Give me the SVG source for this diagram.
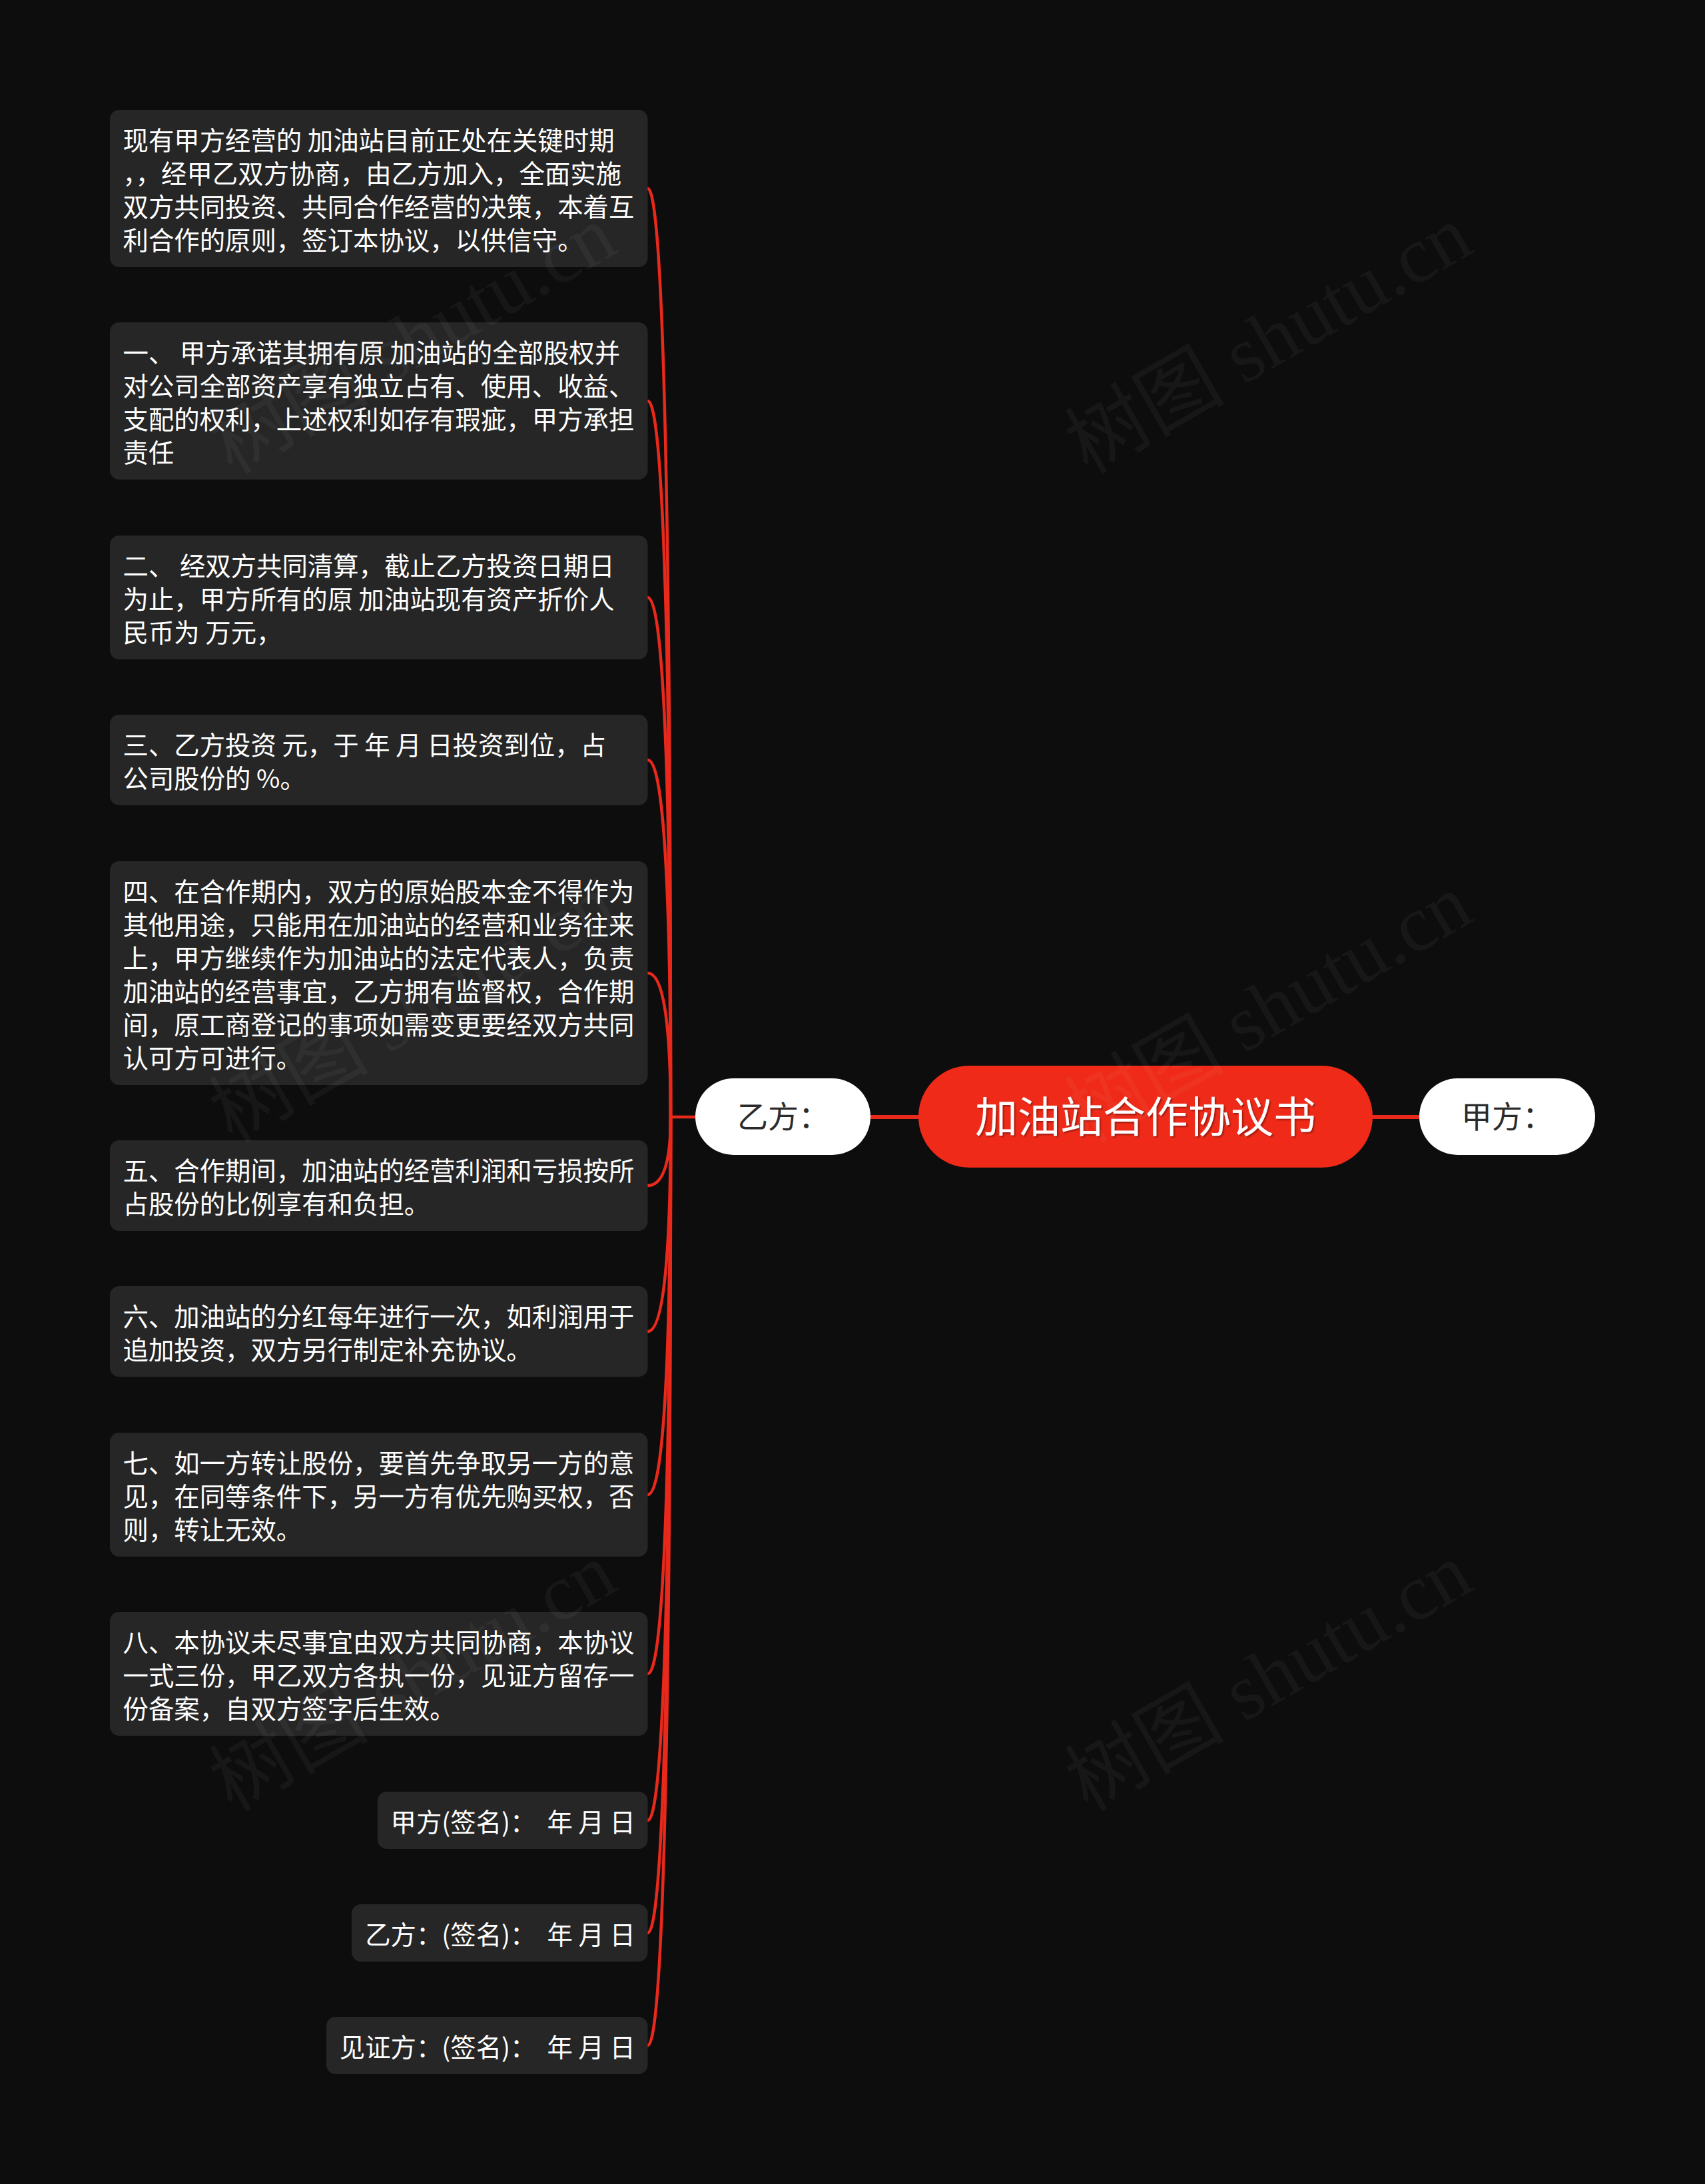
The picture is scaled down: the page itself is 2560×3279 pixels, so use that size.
<svg xmlns="http://www.w3.org/2000/svg" width="2560" height="3279" viewBox="0 0 2560 3279">
<style>
.bg{fill:#0d0d0d}
.box{fill:#262626}
.t{font-family:"Noto Sans CJK SC","Noto Sans",sans-serif;font-size:38.4px;fill:#ffffff}
.link{fill:none;stroke:#e8291b;stroke-width:4.5;stroke-linecap:round}
.main{fill:none;stroke:#e8291b;stroke-width:6}
.root{fill:#ef2a18}
.side{fill:#ffffff}
.rt{font-family:"Noto Sans CJK SC","Noto Sans",sans-serif;font-size:64px;fill:#ffffff;text-anchor:middle}
.st{font-family:"Noto Sans CJK SC","Noto Sans",sans-serif;font-size:46px;fill:#2b2b2b;text-anchor:middle}
.wm{font-family:"Liberation Serif","Noto Sans CJK SC",serif;font-size:120px;fill:#ffffff;fill-opacity:0.045;text-anchor:middle}
</style>
<defs>
<filter id="sh" x="-10%" y="-20%" width="120%" height="140%">
<feDropShadow dx="2" dy="2" stdDeviation="1" flood-color="#000000" flood-opacity="0.35"/>
</filter>
</defs>
<rect class="bg" x="0" y="0" width="2560" height="3279"/>

<g id="connectors">
<line class="main" x1="1307" y1="1677" x2="1380" y2="1677"/>
<line class="main" x1="2060" y1="1677" x2="2132" y2="1677"/>
<line class="link" x1="1044" y1="1677" x2="1007" y2="1677"/>
<path class="link" d="M1007 1677 Q1007 283 972.5 283"/>
<path class="link" d="M1007 1677 Q1007 602 972.5 602"/>
<path class="link" d="M1007 1677 Q1007 897 972.5 897"/>
<path class="link" d="M1007 1677 Q1007 1141 972.5 1141"/>
<path class="link" d="M1007 1677 Q1007 1461 972.5 1461"/>
<path class="link" d="M1007 1677 Q1007 1780 972.5 1780"/>
<path class="link" d="M1007 1677 Q1007 1999 972.5 1999"/>
<path class="link" d="M1007 1677 Q1007 2244 972.5 2244"/>
<path class="link" d="M1007 1677 Q1007 2513 972.5 2513"/>
<path class="link" d="M1007 1677 Q1007 2733 972.5 2733"/>
<path class="link" d="M1007 1677 Q1007 2902 972.5 2902"/>
<path class="link" d="M1007 1677 Q1007 3071 972.5 3071"/>
</g>

<g id="root">
<rect class="root" x="1379" y="1600" width="682" height="153" rx="76.5"/>
<text class="rt" x="1720" y="1700" filter="url(#sh)">加油站合作协议书</text>
</g>

<g id="yifang">
<rect class="side" x="1044" y="1619" width="263" height="115" rx="57.5"/>
<text class="st" x="1176" y="1693">乙方：</text>
</g>

<g id="jiafang">
<rect class="side" x="2131" y="1619" width="264" height="115" rx="57.5"/>
<text class="st" x="2263" y="1693">甲方：</text>
</g>

<g id="n1">
<rect class="box" x="165" y="165" width="807.5" height="236" rx="14"/>
<text class="t" xml:space="preserve"><tspan x="184.5" y="225">现有甲方经营的 加油站目前正处在关键时期</tspan><tspan x="184.5" y="275">，，经甲乙双方协商，由乙方加入，全面实施</tspan><tspan x="184.5" y="325">双方共同投资、共同合作经营的决策，本着互</tspan><tspan x="184.5" y="375">利合作的原则，签订本协议，以供信守。</tspan></text>
</g>

<g id="n2">
<rect class="box" x="165" y="484" width="807.5" height="236" rx="14"/>
<text class="t" xml:space="preserve"><tspan x="184.5" y="544">一、 甲方承诺其拥有原 加油站的全部股权并</tspan><tspan x="184.5" y="594">对公司全部资产享有独立占有、使用、收益、</tspan><tspan x="184.5" y="644">支配的权利，上述权利如存有瑕疵，甲方承担</tspan><tspan x="184.5" y="694">责任</tspan></text>
</g>

<g id="n3">
<rect class="box" x="165" y="804" width="807.5" height="186" rx="14"/>
<text class="t" xml:space="preserve"><tspan x="184.5" y="864">二、 经双方共同清算，截止乙方投资日期日</tspan><tspan x="184.5" y="914">为止，甲方所有的原 加油站现有资产折价人</tspan><tspan x="184.5" y="964">民币为 万元，</tspan></text>
</g>

<g id="n4">
<rect class="box" x="165" y="1073" width="807.5" height="136" rx="14"/>
<text class="t" xml:space="preserve"><tspan x="184.5" y="1133">三、乙方投资 元，于 年 月 日投资到位，占</tspan><tspan x="184.5" y="1183">公司股份的 %。</tspan></text>
</g>

<g id="n5">
<rect class="box" x="165" y="1293" width="807.5" height="336" rx="14"/>
<text class="t" xml:space="preserve"><tspan x="184.5" y="1353">四、在合作期内，双方的原始股本金不得作为</tspan><tspan x="184.5" y="1403">其他用途，只能用在加油站的经营和业务往来</tspan><tspan x="184.5" y="1453">上，甲方继续作为加油站的法定代表人，负责</tspan><tspan x="184.5" y="1503">加油站的经营事宜，乙方拥有监督权，合作期</tspan><tspan x="184.5" y="1553">间，原工商登记的事项如需变更要经双方共同</tspan><tspan x="184.5" y="1603">认可方可进行。</tspan></text>
</g>

<g id="n6">
<rect class="box" x="165" y="1712" width="807.5" height="136" rx="14"/>
<text class="t" xml:space="preserve"><tspan x="184.5" y="1772">五、合作期间，加油站的经营利润和亏损按所</tspan><tspan x="184.5" y="1822">占股份的比例享有和负担。</tspan></text>
</g>

<g id="n7">
<rect class="box" x="165" y="1931" width="807.5" height="136" rx="14"/>
<text class="t" xml:space="preserve"><tspan x="184.5" y="1991">六、加油站的分红每年进行一次，如利润用于</tspan><tspan x="184.5" y="2041">追加投资，双方另行制定补充协议。</tspan></text>
</g>

<g id="n8">
<rect class="box" x="165" y="2151" width="807.5" height="186" rx="14"/>
<text class="t" xml:space="preserve"><tspan x="184.5" y="2211">七、如一方转让股份，要首先争取另一方的意</tspan><tspan x="184.5" y="2261">见，在同等条件下，另一方有优先购买权，否</tspan><tspan x="184.5" y="2311">则，转让无效。</tspan></text>
</g>

<g id="n9">
<rect class="box" x="165" y="2420" width="807.5" height="186" rx="14"/>
<text class="t" xml:space="preserve"><tspan x="184.5" y="2480">八、本协议未尽事宜由双方共同协商，本协议</tspan><tspan x="184.5" y="2530">一式三份，甲乙双方各执一份，见证方留存一</tspan><tspan x="184.5" y="2580">份备案，自双方签字后生效。</tspan></text>
</g>

<g id="n10">
<rect class="box" x="567" y="2690" width="405.5" height="86" rx="14"/>
<text class="t" xml:space="preserve" x="954" y="2750" text-anchor="end">甲方(签名)：  年 月 日</text>
</g>

<g id="n11">
<rect class="box" x="528" y="2859" width="444.5" height="86" rx="14"/>
<text class="t" xml:space="preserve" x="954" y="2919" text-anchor="end">乙方：(签名)：  年 月 日</text>
</g>

<g id="n12">
<rect class="box" x="490" y="3028" width="482.5" height="86" rx="14"/>
<text class="t" xml:space="preserve" x="954" y="3088" text-anchor="end">见证方：(签名)：  年 月 日</text>
</g>

<g id="watermarks">
<text class="wm" transform="translate(1925 545) rotate(-30)">树图 shutu.cn</text>
<text class="wm" transform="translate(1925 1549) rotate(-30)">树图 shutu.cn</text>
<text class="wm" transform="translate(1925 2553) rotate(-30)">树图 shutu.cn</text>
<text class="wm" transform="translate(640 545) rotate(-30)">树图 shutu.cn</text>
<text class="wm" transform="translate(640 1549) rotate(-30)">树图 shutu.cn</text>
<text class="wm" transform="translate(640 2553) rotate(-30)">树图 shutu.cn</text>
</g>
</svg>
